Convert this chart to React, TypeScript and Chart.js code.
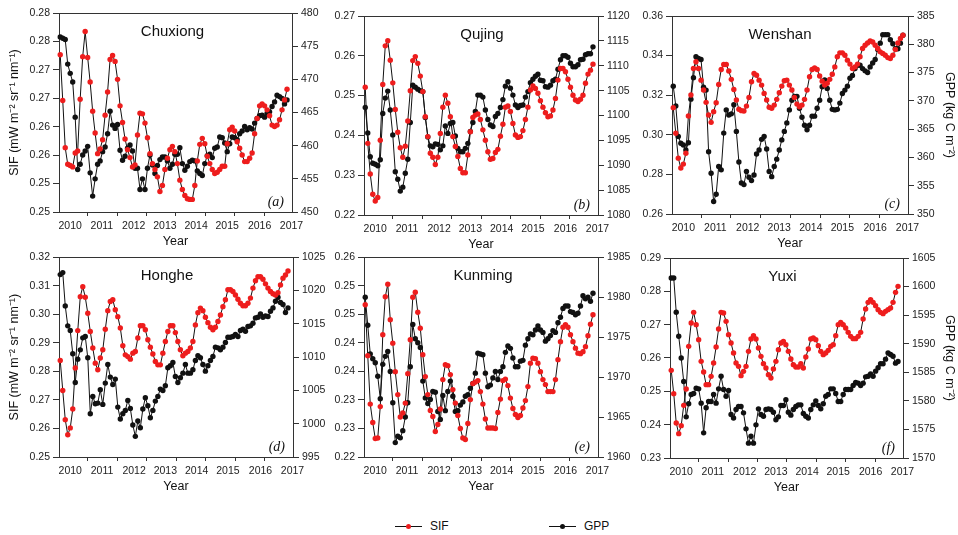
import React, { useEffect, useRef } from "react";
import { Chart, registerables } from "chart.js";

Chart.register(...registerables);

const FONT = "'Liberation Sans', Arial, Helvetica, sans-serif";
const SERIF = "'Liberation Serif', 'Times New Roman', serif";
const RED = "#ee1d1d";
const BLACK = "#111111";
const AXIS = "#333333";

// x axis: month index of each monthly value (0 = first month shown)
const yearLabels = ["2010", "2011", "2012", "2013", "2014", "2015", "2016", "2017"];
const yearLabelPos = [4, 16.7, 29.5, 42, 54.5, 67, 80, 92.8];
const yearTickPos = [10.8, 22.6, 34.4, 46.2, 58, 69.8, 81.6];

// ---------- (a) Chuxiong ----------
const sifChuxiong = [
  0.2737, 0.2668, 0.2597, 0.2572, 0.257, 0.2568, 0.2589, 0.2592, 0.267, 0.2734,
  0.2772, 0.2733, 0.2696, 0.2652, 0.2619, 0.2588, 0.2595, 0.2609, 0.2646, 0.2681,
  0.273, 0.2736, 0.2727, 0.27, 0.266, 0.2635, 0.261, 0.2594, 0.2582, 0.2568,
  0.2571, 0.2616, 0.2649, 0.2648, 0.2634, 0.2612, 0.2588, 0.2573, 0.2564, 0.2553,
  0.2531, 0.254, 0.2564, 0.2581, 0.2594, 0.2599, 0.2591, 0.2573, 0.2548, 0.2534,
  0.2525, 0.252, 0.2519, 0.2519, 0.254, 0.2577, 0.2602, 0.2611, 0.2603, 0.2584,
  0.2573, 0.2564, 0.2558, 0.256, 0.2564, 0.2569, 0.2569, 0.2603, 0.2624, 0.2628,
  0.2622, 0.2606, 0.2596, 0.2586, 0.2576, 0.2576, 0.2581, 0.2589, 0.2618, 0.2641,
  0.266, 0.2663, 0.266, 0.2654, 0.2645, 0.2631, 0.2629, 0.2631, 0.2639, 0.2654,
  0.2669, 0.2685,
];
const gppChuxiong = [
  476.4, 476.2, 476.0, 472.3, 470.9, 469.6, 464.3, 456.4, 457.2, 458.6,
  459.2, 459.9, 455.9, 452.4, 455.0, 457.2, 457.7, 459.1, 459.8, 461.8,
  465.2, 463.1, 462.6, 463.2, 459.3, 457.8, 458.4, 459.6, 460.1, 459.2,
  456.6, 456.6, 453.4, 455.0, 453.4, 456.6, 458.6, 457.1, 455.8, 457.0,
  457.9, 458.3, 458.3, 457.7, 456.6, 457.2, 458.7, 458.7, 459.7, 457.3,
  456.3, 456.9, 457.6, 457.8, 457.7, 456.2, 455.8, 455.5, 457.3, 458.5,
  458.7, 458.2, 459.6, 459.8, 461.3, 461.2, 460.4, 459.1, 460.3, 461.3,
  461.2, 460.9, 461.8, 462.2, 462.9, 462.4, 462.7, 462.5, 463.4, 464.1,
  464.5, 464.6, 464.3, 464.9, 465.1, 465.9, 466.6, 467.6, 467.4, 467.1,
  466.3, 466.9,
];
const sifTicksChuxiong = ["0.25", "0.25", "0.26", "0.26", "0.27", "0.27", "0.28", "0.28"];
const gppTicksChuxiong = ["450", "455", "460", "465", "470", "475", "480"];

// ---------- (b) Qujing ----------
const sifQujing = [
  0.2521, 0.238, 0.2303, 0.2252, 0.2235, 0.2244, 0.2388, 0.2528, 0.2625, 0.2638,
  0.2589, 0.2532, 0.2465, 0.2408, 0.2369, 0.2345, 0.2373, 0.2436, 0.2512, 0.2588,
  0.2598, 0.2581, 0.2549, 0.251, 0.2447, 0.2397, 0.2355, 0.2345, 0.2327, 0.2345,
  0.2405, 0.2471, 0.2501, 0.2481, 0.2447, 0.2397, 0.2372, 0.2347, 0.2317, 0.2306,
  0.2306, 0.2351, 0.2409, 0.2445, 0.2451, 0.2454, 0.244, 0.2414, 0.2388, 0.2359,
  0.234, 0.2342, 0.2357, 0.2365, 0.2398, 0.2428, 0.2471, 0.2474, 0.246, 0.243,
  0.2401, 0.2395, 0.2397, 0.2412, 0.244, 0.2471, 0.2514, 0.2524, 0.2518, 0.2506,
  0.2487, 0.2471, 0.2457, 0.2447, 0.2449, 0.2464, 0.2493, 0.2539, 0.2568, 0.2568,
  0.256, 0.2541, 0.2521, 0.2501, 0.2489, 0.2485, 0.2491, 0.2501, 0.2531, 0.2554,
  0.2564, 0.2579,
];
const gppQujing = [
  1101.6, 1096.5, 1091.7, 1090.4, 1090.2, 1089.9, 1091.1, 1100.4, 1103.5, 1104.9,
  1101.1, 1096.1, 1088.7, 1087.2, 1084.8, 1085.6, 1088.4, 1091.2, 1098.6, 1106.1,
  1105.7, 1105.3, 1105.0, 1104.8, 1099.6, 1095.7, 1093.9, 1093.7, 1094.3, 1094.2,
  1093.1, 1093.9, 1097.9, 1096.4, 1098.4, 1098.6, 1095.9, 1093.4, 1092.7, 1092.7,
  1093.4, 1094.4, 1096.8, 1098.6, 1100.8, 1104.1, 1104.1, 1103.7, 1101.1, 1099.2,
  1098.1, 1097.8, 1099.8, 1100.4, 1101.6, 1103.2, 1105.9, 1106.8, 1105.5, 1104.1,
  1102.1, 1101.6, 1102.0, 1102.1, 1103.7, 1104.8, 1106.6, 1107.3, 1107.9, 1108.3,
  1107.1, 1107.0, 1105.8, 1105.7, 1106.1, 1107.0, 1107.3, 1109.3, 1111.2, 1112.0,
  1112.0, 1111.7, 1110.5, 1109.8, 1109.8, 1110.2, 1111.2, 1111.3, 1112.2, 1112.4,
  1112.4, 1113.8,
];
const sifTicksQujing = ["0.22", "0.23", "0.24", "0.25", "0.26", "0.27"];
const gppTicksQujing = ["1080", "1085", "1090", "1095", "1100", "1105", "1110", "1115", "1120"];

// ---------- (c) Wenshan ----------
const sifWenshan = [
  0.3137, 0.3008, 0.2882, 0.2832, 0.2852, 0.2907, 0.3095, 0.3201, 0.3335, 0.3369,
  0.3335, 0.3276, 0.3226, 0.3164, 0.31, 0.3063, 0.3117, 0.3162, 0.3254, 0.333,
  0.3355, 0.3355, 0.3322, 0.328, 0.3229, 0.3176, 0.3129, 0.3122, 0.312, 0.3145,
  0.3189, 0.3268, 0.331, 0.3301, 0.3276, 0.3251, 0.3209, 0.3176, 0.3139, 0.3134,
  0.315, 0.3179, 0.3212, 0.3246, 0.3273, 0.3276, 0.3251, 0.3226, 0.3189, 0.3155,
  0.3142, 0.315, 0.3179, 0.3226, 0.3293, 0.333, 0.3338, 0.333, 0.3297, 0.3271,
  0.3251, 0.326, 0.328, 0.3306, 0.3343, 0.3394, 0.3414, 0.3414, 0.3402, 0.3377,
  0.3357, 0.3335, 0.3343, 0.3357, 0.3394, 0.3436, 0.3452, 0.3464, 0.3474, 0.3469,
  0.3452, 0.3436, 0.3419, 0.3411, 0.3402, 0.339, 0.3385, 0.3402, 0.3431, 0.3464,
  0.3486, 0.3503,
];
const gppWenshan = [
  372.6, 369.1, 363.7, 362.5, 362.2, 361.3, 362.6, 370.3, 374.1, 377.8,
  377.5, 377.3, 372.4, 371.9, 361.0, 357.2, 352.2, 353.5, 358.4, 357.8,
  364.3, 368.4, 367.5, 367.7, 369.3, 364.6, 359.2, 355.5, 355.2, 357.5,
  356.5, 355.9, 356.9, 360.6, 361.3, 363.2, 363.7, 361.5, 357.5, 356.6,
  358.4, 359.7, 361.3, 363.1, 364.6, 366.1, 368.4, 370.1, 370.8, 370.8,
  368.7, 367.1, 365.7, 364.9, 365.7, 367.3, 367.3, 368.7, 370.1, 372.5,
  373.7, 372.2, 370.1, 368.5, 368.4, 368.5, 369.6, 371.3, 371.9, 372.6,
  374.0, 374.5, 375.7, 376.3, 376.3, 375.7, 375.3, 375.0, 376.0, 376.7,
  377.3, 379.1, 380.2, 381.7, 381.7, 381.7, 380.8, 380.1, 379.2, 379.2,
  380.2, 381.6,
];
const sifTicksWenshan = ["0.26", "0.28", "0.30", "0.32", "0.34", "0.36"];
const gppTicksWenshan = ["350", "355", "360", "365", "370", "375", "380", "385"];

// ---------- (d) Honghe ----------
const sifHonghe = [
  0.2838, 0.2733, 0.2631, 0.2578, 0.2602, 0.2668, 0.2812, 0.2943, 0.3062, 0.3097,
  0.306, 0.3004, 0.294, 0.2882, 0.2829, 0.2806, 0.2847, 0.2876, 0.2948, 0.3013,
  0.3045, 0.3051, 0.3016, 0.2992, 0.2952, 0.289, 0.2858, 0.2852, 0.2843, 0.2864,
  0.287, 0.2917, 0.296, 0.296, 0.2946, 0.2911, 0.2885, 0.2861, 0.2835, 0.2823,
  0.2823, 0.2864, 0.2905, 0.294, 0.296, 0.296, 0.2936, 0.2905, 0.2876, 0.2855,
  0.2864, 0.287, 0.2882, 0.2905, 0.2963, 0.3006, 0.3022, 0.3013, 0.299, 0.2971,
  0.2955, 0.2946, 0.2955, 0.2975, 0.2998, 0.3027, 0.3051, 0.3086, 0.3086, 0.308,
  0.3068, 0.3053, 0.3039, 0.303, 0.303, 0.3039, 0.3057, 0.3092, 0.3118, 0.3132,
  0.3132, 0.3123, 0.3107, 0.3092, 0.308, 0.3072, 0.3068, 0.3076, 0.3103, 0.3127,
  0.3138, 0.3152,
];
const gppHonghe = [
  1022.4, 1022.7, 1017.7, 1014.7, 1014.0, 1010.5, 1006.2, 1009.7, 1011.1, 1012.9,
  1013.1, 1009.9, 1001.5, 1004.1, 1003.0, 1003.1, 1005.1, 1002.9, 1006.1, 1008.9,
  1007.0, 1005.9, 1006.7, 1002.5, 1000.7, 1001.5, 1002.0, 1003.5, 1002.3, 999.8,
  998.1, 1000.4, 999.4, 1002.2, 1003.9, 1002.7, 1000.9, 1002.0, 1003.4, 1004.1,
  1005.2, 1005.0, 1005.7, 1008.4, 1008.7, 1009.2, 1007.1, 1006.2, 1006.9, 1007.6,
  1008.9, 1007.6, 1007.6, 1008.1, 1009.5, 1010.2, 1009.9, 1008.9, 1007.9, 1008.7,
  1009.5, 1010.1, 1011.5, 1011.4, 1011.1, 1011.5, 1012.2, 1013.0, 1013.0, 1013.1,
  1013.4, 1013.1, 1014.0, 1014.2, 1013.9, 1014.6, 1014.7, 1015.1, 1015.9, 1016.0,
  1016.5, 1016.0, 1016.2, 1016.1, 1016.9, 1017.4, 1018.4, 1019.0, 1018.2, 1017.9,
  1016.7, 1017.4,
];
const sifTicksHonghe = ["0.25", "0.26", "0.27", "0.28", "0.29", "0.30", "0.31", "0.32"];
const gppTicksHonghe = ["995", "1000", "1005", "1010", "1015", "1020", "1025"];

// ---------- (e) Kunming ----------
const sifKunming = [
  0.2505, 0.2403, 0.2306, 0.2269, 0.2237, 0.2238, 0.2301, 0.2445, 0.2521, 0.2546,
  0.2475, 0.2428, 0.2371, 0.2325, 0.228, 0.2288, 0.2308, 0.2367, 0.2435, 0.252,
  0.253, 0.249, 0.2458, 0.2405, 0.2361, 0.2325, 0.2293, 0.2281, 0.2251, 0.2265,
  0.2296, 0.2355, 0.2385, 0.2383, 0.2365, 0.2335, 0.2308, 0.2283, 0.2257, 0.2238,
  0.2235, 0.2267, 0.2315, 0.2347, 0.235, 0.2353, 0.2331, 0.2306, 0.2276, 0.2258,
  0.2258, 0.2258, 0.2257, 0.2289, 0.2316, 0.2353, 0.2356, 0.2343, 0.2318, 0.2297,
  0.2285, 0.2279, 0.2283, 0.2298, 0.2313, 0.2341, 0.2388, 0.2398, 0.2397, 0.2388,
  0.2371, 0.2355, 0.2345, 0.2331, 0.2331, 0.2331, 0.2355, 0.2395, 0.2431, 0.246,
  0.2465, 0.246, 0.2445, 0.2431, 0.2418, 0.2408, 0.2407, 0.2411, 0.2421, 0.2443,
  0.2466, 0.2485,
];
const gppKunming = [
  1980.0, 1976.5, 1972.9, 1972.3, 1971.8, 1970.1, 1967.3, 1971.6, 1972.6, 1973.2,
  1970.7, 1966.8, 1961.8, 1962.6, 1962.4, 1963.3, 1965.0, 1966.8, 1971.3, 1976.6,
  1974.8, 1974.3, 1973.7, 1969.5, 1967.4, 1966.7, 1967.2, 1968.2, 1968.1, 1965.7,
  1964.7, 1967.7, 1965.8, 1968.2, 1969.5, 1967.6, 1965.7, 1965.8, 1966.5, 1966.9,
  1967.6, 1967.8, 1968.6, 1969.2, 1970.5, 1973.0, 1972.9, 1972.8, 1970.5, 1968.8,
  1969.0, 1969.9, 1970.7, 1969.7, 1970.7, 1971.3, 1973.1, 1973.9, 1973.6, 1972.4,
  1971.3, 1971.3, 1972.0, 1972.1, 1974.0, 1974.8, 1975.4, 1975.3, 1975.9, 1976.4,
  1975.9, 1975.6, 1974.5, 1974.8, 1975.2, 1975.8, 1975.6, 1976.8, 1977.5, 1978.6,
  1978.9, 1978.9, 1978.2, 1978.1, 1977.8, 1978.0, 1978.9, 1980.2, 1979.8, 1980.0,
  1979.5, 1980.5,
];
const sifTicksKunming = ["0.22", "0.23", "0.23", "0.24", "0.24", "0.25", "0.25", "0.26"];
const gppTicksKunming = ["1960", "1965", "1970", "1975", "1980", "1985"];

// ---------- (f) Yuxi ----------
const sifYuxi = [
  0.2563, 0.2493, 0.2405, 0.2373, 0.2397, 0.2458, 0.2507, 0.2635, 0.2705, 0.2737,
  0.27, 0.2655, 0.259, 0.2558, 0.252, 0.252, 0.2545, 0.2585, 0.2633, 0.2687,
  0.2737, 0.2735, 0.271, 0.267, 0.2645, 0.2615, 0.2585, 0.2575, 0.2547, 0.256,
  0.2575, 0.262, 0.2657, 0.2667, 0.2657, 0.263, 0.2605, 0.2583, 0.257, 0.255,
  0.254, 0.2567, 0.259, 0.2625, 0.2645, 0.265, 0.264, 0.262, 0.2597, 0.258,
  0.2573, 0.2573, 0.2583, 0.257, 0.2603, 0.2627, 0.2657, 0.266, 0.2655, 0.2637,
  0.262, 0.261, 0.2615, 0.2623, 0.2635, 0.264, 0.2667, 0.27, 0.2707, 0.27,
  0.269, 0.2677, 0.2665, 0.2658, 0.2658, 0.2665, 0.2677, 0.2717, 0.2747, 0.2767,
  0.2775, 0.2767, 0.2757, 0.2745, 0.2737, 0.2733, 0.274, 0.2745, 0.275, 0.2767,
  0.2797, 0.2815,
];
const gppYuxi = [
  1601.5, 1601.5, 1595.5, 1591.3, 1587.5, 1583.4, 1577.2, 1579.5, 1581.1, 1581.3,
  1582.2, 1582.1, 1579.6, 1574.4, 1578.8, 1579.9, 1579.9, 1581.1, 1579.6, 1582.1,
  1584.3, 1582.0, 1580.8, 1581.8, 1577.6, 1577.0, 1578.5, 1579.0, 1579.0, 1577.9,
  1575.1, 1572.6, 1573.8, 1572.6, 1575.8, 1578.6, 1577.6, 1577.3, 1578.5, 1578.6,
  1578.5, 1578.0, 1576.7, 1577.2, 1579.2, 1579.2, 1580.2, 1578.0, 1577.5, 1578.5,
  1579.0, 1579.3, 1579.3, 1577.8, 1577.3, 1577.0, 1578.5, 1579.3, 1580.0, 1579.2,
  1578.6, 1579.5, 1580.8, 1581.1, 1582.1, 1582.1, 1581.3, 1579.9, 1579.9, 1581.1,
  1582.0, 1582.0, 1582.0, 1582.7, 1583.2, 1583.1, 1582.7, 1583.1, 1584.2, 1584.3,
  1584.7, 1584.3, 1585.2, 1585.8, 1586.5, 1586.5, 1587.3, 1588.4, 1588.1, 1587.8,
  1586.6, 1586.9,
];
const sifTicksYuxi = ["0.23", "0.24", "0.25", "0.26", "0.27", "0.28", "0.29"];
const gppTicksYuxi = ["1570", "1575", "1580", "1585", "1590", "1595", "1600", "1605"];

const SIF_TITLE = "SIF (mW m\u207B\u00B2 sr\u207B\u00B9 nm\u207B\u00B9)";
const GPP_TITLE = "GPP (kg C m\u207B\u00B2)";

type PanelDef = {
  name: string;
  letter: string;
  sif: number[];
  gpp: number[];
  sifMin: number;
  sifMax: number;
  sifTicks: string[];
  gppMin: number;
  gppMax: number;
  gppTicks: string[];
  leftTitle: boolean;
  rightTitle: boolean;
  canvas: { x: number; y: number; w: number; h: number };
  plot: { l: number; t: number; r: number; b: number };
  nameDx: number;
};

const PANELS: PanelDef[] = [
  {
    name: "Chuxiong", letter: "(a)", sif: sifChuxiong, gpp: gppChuxiong,
    sifMin: 0.25, sifMax: 0.28, sifTicks: sifTicksChuxiong,
    gppMin: 450, gppMax: 480, gppTicks: gppTicksChuxiong,
    leftTitle: true, rightTitle: false,
    canvas: { x: 0, y: 0, w: 326, h: 256 }, plot: { l: 59, t: 13, r: 292, b: 212 }, nameDx: -3,
  },
  {
    name: "Qujing", letter: "(b)", sif: sifQujing, gpp: gppQujing,
    sifMin: 0.22, sifMax: 0.27, sifTicks: sifTicksQujing,
    gppMin: 1080, gppMax: 1120, gppTicks: gppTicksQujing,
    leftTitle: false, rightTitle: false,
    canvas: { x: 326, y: 0, w: 309, h: 256 }, plot: { l: 364, t: 16, r: 598, b: 215 }, nameDx: 1,
  },
  {
    name: "Wenshan", letter: "(c)", sif: sifWenshan, gpp: gppWenshan,
    sifMin: 0.26, sifMax: 0.36, sifTicks: sifTicksWenshan,
    gppMin: 350, gppMax: 385, gppTicks: gppTicksWenshan,
    leftTitle: false, rightTitle: true,
    canvas: { x: 635, y: 0, w: 323, h: 256 }, plot: { l: 672, t: 16, r: 908, b: 214 }, nameDx: -10,
  },
  {
    name: "Honghe", letter: "(d)", sif: sifHonghe, gpp: gppHonghe,
    sifMin: 0.25, sifMax: 0.32, sifTicks: sifTicksHonghe,
    gppMin: 995, gppMax: 1025, gppTicks: gppTicksHonghe,
    leftTitle: true, rightTitle: false,
    canvas: { x: 0, y: 248, w: 330, h: 250 }, plot: { l: 59, t: 257, r: 293, b: 457 }, nameDx: -9,
  },
  {
    name: "Kunming", letter: "(e)", sif: sifKunming, gpp: gppKunming,
    sifMin: 0.22, sifMax: 0.26, sifTicks: sifTicksKunming,
    gppMin: 1960, gppMax: 1985, gppTicks: gppTicksKunming,
    leftTitle: false, rightTitle: false,
    canvas: { x: 330, y: 248, w: 304, h: 250 }, plot: { l: 364, t: 257, r: 598, b: 457 }, nameDx: 2,
  },
  {
    name: "Yuxi", letter: "(f)", sif: sifYuxi, gpp: gppYuxi,
    sifMin: 0.23, sifMax: 0.29, sifTicks: sifTicksYuxi,
    gppMin: 1570, gppMax: 1605, gppTicks: gppTicksYuxi,
    leftTitle: false, rightTitle: true,
    canvas: { x: 634, y: 248, w: 324, h: 250 }, plot: { l: 670, t: 258, r: 903, b: 458 }, nameDx: -4,
  },
];

const decoPlugin = {
  id: "deco",
  afterDraw(chart: any, _args: any, opts: any) {
    const { ctx, chartArea: a, scales } = chart;
    ctx.save();
    ctx.strokeStyle = AXIS;
    ctx.lineWidth = 1;
    ctx.beginPath();
    ctx.moveTo(a.left, Math.round(a.top) + 0.5);
    ctx.lineTo(a.right, Math.round(a.top) + 0.5);
    ctx.stroke();
    const xs = scales.x;
    ctx.beginPath();
    for (const v of yearTickPos) {
      const px = Math.round(xs.getPixelForValue(v)) + 0.5;
      ctx.moveTo(px, a.bottom);
      ctx.lineTo(px, a.bottom + 4);
    }
    ctx.stroke();
    ctx.fillStyle = "#111";
    ctx.textBaseline = "middle";
    ctx.textAlign = "center";
    ctx.font = `15px ${FONT}`;
    ctx.fillText(opts.name, (a.left + a.right) / 2 + opts.nameDx, a.top + 19);
    ctx.textAlign = "right";
    ctx.font = `italic 14px ${SERIF}`;
    ctx.fillText(opts.letter, a.right - 8, a.bottom - 10);
    ctx.restore();
  },
};

function evenTicks(min: number, max: number, n: number) {
  const out: { value: number }[] = [];
  for (let i = 0; i < n; i++) out.push({ value: min + (i * (max - min)) / (n - 1) });
  return out;
}

function makeConfig(p: PanelDef): any {
  const { canvas: c, plot } = p;
  const leftW = plot.l - c.x;
  const rightW = c.x + c.w - plot.r;
  const bottomH = c.y + c.h - plot.b;
  const tickFont = { family: FONT, size: 10.5 };
  const titleFont = { family: FONT, size: 12.5, lineHeight: 1.2 };
  const xTitlePad = bottomH - 29.5 - 7.5;
  return {
    type: "line",
    data: {
      datasets: [
        {
          label: "SIF",
          data: p.sif.map((v, i) => ({ x: i, y: v })),
          yAxisID: "ySif",
          borderColor: BLACK,
          borderWidth: 1,
          pointRadius: 2.7,
          pointBorderWidth: 0,
          pointBackgroundColor: RED,
          pointBorderColor: RED,
          tension: 0,
          clip: false,
        },
        {
          label: "GPP",
          data: p.gpp.map((v, i) => ({ x: i, y: v })),
          yAxisID: "yGpp",
          borderColor: BLACK,
          borderWidth: 1,
          pointRadius: 2.7,
          pointBorderWidth: 0,
          pointBackgroundColor: BLACK,
          pointBorderColor: BLACK,
          tension: 0,
          clip: false,
        },
      ],
    },
    options: {
      animation: false,
      responsive: false,
      maintainAspectRatio: false,
      devicePixelRatio: 1,
      events: [],
      layout: { padding: { top: plot.t - c.y, left: 0, right: 0, bottom: 0 } },
      plugins: {
        legend: { display: false },
        tooltip: { enabled: false },
        deco: { name: p.name, letter: p.letter, nameDx: p.nameDx },
      },
      scales: {
        x: {
          type: "linear",
          position: "bottom",
          min: -0.5,
          max: 93,
          afterBuildTicks: (s: any) => {
            s.ticks = yearLabelPos.map((v) => ({ value: v }));
          },
          afterFit: (s: any) => {
            s.height = bottomH;
          },
          ticks: {
            autoSkip: false,
            maxRotation: 0,
            padding: 8,
            color: "#222",
            font: tickFont,
            callback: (_v: any, i: number) => yearLabels[i],
          },
          grid: { display: true, drawOnChartArea: false, drawTicks: false, color: AXIS },
          border: { display: true, color: AXIS, width: 1 },
          title: {
            display: true,
            text: "Year",
            color: "#111",
            font: titleFont,
            padding: { top: 0, bottom: xTitlePad },
          },
        },
        ySif: {
          type: "linear",
          position: "left",
          min: p.sifMin,
          max: p.sifMax,
          afterBuildTicks: (s: any) => {
            s.ticks = evenTicks(p.sifMin, p.sifMax, p.sifTicks.length);
          },
          afterFit: (s: any) => {
            s.width = leftW;
          },
          ticks: {
            autoSkip: false,
            padding: 3,
            color: "#222",
            font: tickFont,
            callback: (_v: any, i: number) => p.sifTicks[i],
          },
          grid: { display: true, drawOnChartArea: false, drawTicks: true, tickLength: 6, color: AXIS },
          border: { display: true, color: AXIS, width: 1 },
          title: {
            display: p.leftTitle,
            text: SIF_TITLE,
            color: "#111",
            font: titleFont,
            padding: { top: 7, bottom: 0 },
          },
        },
        yGpp: {
          type: "linear",
          position: "right",
          min: p.gppMin,
          max: p.gppMax,
          afterBuildTicks: (s: any) => {
            s.ticks = evenTicks(p.gppMin, p.gppMax, p.gppTicks.length);
          },
          afterFit: (s: any) => {
            s.width = rightW;
          },
          ticks: {
            autoSkip: false,
            padding: 3,
            color: "#222",
            font: tickFont,
            callback: (_v: any, i: number) => p.gppTicks[i],
          },
          grid: { display: true, drawOnChartArea: false, drawTicks: true, tickLength: 6, color: AXIS },
          border: { display: true, color: AXIS, width: 1 },
          title: {
            display: p.rightTitle,
            text: GPP_TITLE,
            color: "#111",
            font: titleFont,
            padding: { top: 1, bottom: 0 },
          },
        },
      },
    },
    plugins: [decoPlugin],
  };
}

function Panel({ p }: { p: PanelDef }) {
  const ref = useRef<HTMLCanvasElement>(null);
  useEffect(() => {
    if (!ref.current) return;
    const chart = new Chart(ref.current, makeConfig(p));
    return () => chart.destroy();
  }, [p]);
  return (
    <canvas
      ref={ref}
      width={p.canvas.w}
      height={p.canvas.h}
      style={{
        position: "absolute",
        left: p.canvas.x,
        top: p.canvas.y,
        width: p.canvas.w,
        height: p.canvas.h,
      }}
    />
  );
}

function LegendItem({ x, color, label }: { x: number; color: string; label: string }) {
  return (
    <div style={{ position: "absolute", left: x, top: 518, height: 16, width: 70 }}>
      <div style={{ position: "absolute", left: 0, top: 8, width: 27, height: 1, background: BLACK }} />
      <div
        style={{
          position: "absolute",
          left: 11,
          top: 6,
          width: 5,
          height: 5,
          borderRadius: "50%",
          background: color,
        }}
      />
      <span
        style={{
          position: "absolute",
          left: 35,
          top: 1,
          fontFamily: FONT,
          fontSize: 12,
          lineHeight: "14px",
          color: "#111",
          whiteSpace: "nowrap",
        }}
      >
        {label}
      </span>
    </div>
  );
}

export default function App() {
  useEffect(() => {
    Chart.defaults.font.family = FONT;
  }, []);
  return (
    <div
      style={{
        position: "absolute",
        left: 0,
        top: 0,
        width: 958,
        height: 535,
        background: "#ffffff",
        overflow: "hidden",
      }}
    >
      {PANELS.map((p) => (
        <Panel key={p.name} p={p} />
      ))}
      <LegendItem x={395} color={RED} label="SIF" />
      <LegendItem x={549} color={BLACK} label="GPP" />
    </div>
  );
}
